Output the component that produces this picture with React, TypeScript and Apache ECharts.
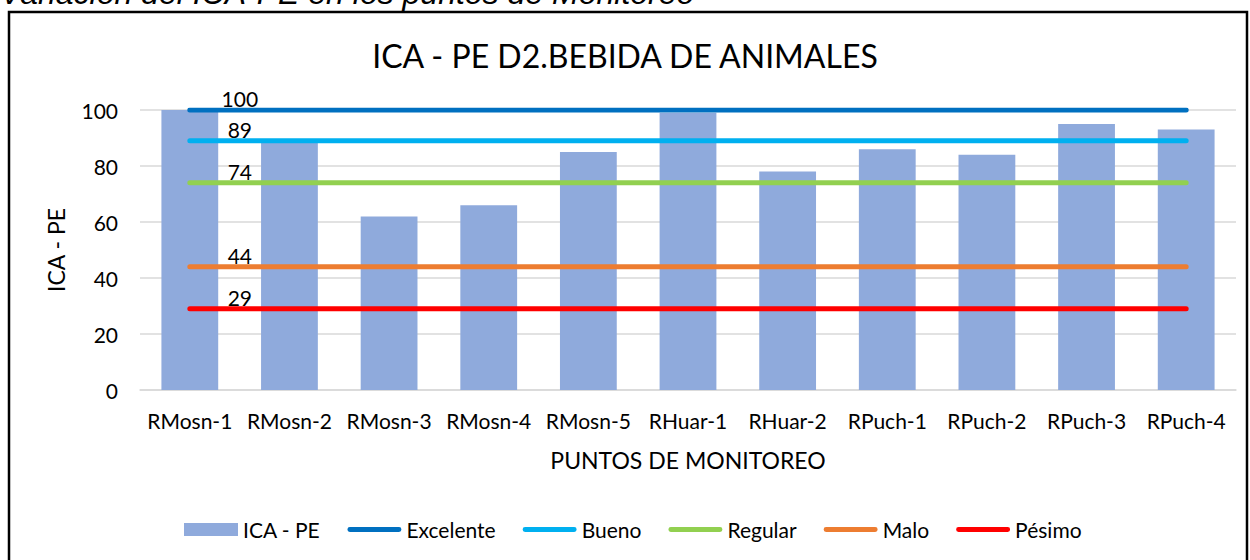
import React, { useEffect, useRef } from "react";
import * as echarts from "echarts";

const categories = [
  "RMosn-1",
  "RMosn-2",
  "RMosn-3",
  "RMosn-4",
  "RMosn-5",
  "RHuar-1",
  "RHuar-2",
  "RPuch-1",
  "RPuch-2",
  "RPuch-3",
  "RPuch-4",
];
const icaValues = [100, 89, 62, 66, 85, 99, 78, 86, 84, 95, 93];
const excelente = [100, 100, 100, 100, 100, 100, 100, 100, 100, 100, 100];
const bueno = [89, 89, 89, 89, 89, 89, 89, 89, 89, 89, 89];
const regular = [74, 74, 74, 74, 74, 74, 74, 74, 74, 74, 74];
const malo = [44, 44, 44, 44, 44, 44, 44, 44, 44, 44, 44];
const pesimo = [29, 29, 29, 29, 29, 29, 29, 29, 29, 29, 29];
const yTicks = { min: 0, max: 100, interval: 20 };

const FONT = "Lato";
const LINE_ICON =
  "path://M2.5,0 L53.5,0 A2.5,2.5 0 0 1 53.5,5 L2.5,5 A2.5,2.5 0 0 1 2.5,0 Z";

function lineSeries(name: string, data: number[], color: string) {
  return {
    name,
    type: "line",
    data,
    symbol: "circle",
    symbolSize: 0.5,
    showSymbol: true,
    z: 3,
    lineStyle: { color, width: 5, cap: "round" },
    itemStyle: { color },
    label: {
      show: true,
      position: "top",
      distance: 2,
      offset: [50, 1],
      color: "#000",
      fontFamily: FONT,
      fontSize: 21,
      formatter: (p: any) => (p.dataIndex === 0 ? String(p.value) : ""),
    },
  };
}

export default function App() {
  const ref = useRef<HTMLDivElement>(null);
  useEffect(() => {
    if (!ref.current) return;
    const chart = echarts.init(ref.current, undefined, { renderer: "svg" });
    chart.setOption({
      animation: false,
      backgroundColor: "#fff",
      textStyle: { fontFamily: FONT, color: "#000" },
      title: {
        text: "ICA - PE D2.BEBIDA DE ANIMALES",
        left: "center",
        top: 34,
        textStyle: { fontFamily: FONT, fontSize: 32, fontWeight: "normal", color: "#000" },
      },
      graphic: [
        {
          type: "text",
          left: 0,
          top: -23,
          style: {
            text: "Variación del ICA-PE en los puntos de Monitoreo",
            font: 'italic 32px "Liberation Sans"',
            fill: "#000",
          },
        },
        {
          type: "rect",
          shape: { x: 9, y: 12, width: 1238, height: 600 },
          style: { fill: "none", stroke: "#000", lineWidth: 2.5 },
          z: -1,
        },
      ],
      legend: {
        left: 179,
        top: 514,
        itemWidth: 54,
        itemHeight: 13,
        itemGap: 27,
        selectedMode: false,
        itemStyle: { borderWidth: 0 },
        textStyle: { fontFamily: FONT, fontSize: 21, color: "#000" },
        data: [
          { name: "ICA - PE", icon: "rect" },
          { name: "Excelente", icon: LINE_ICON },
          { name: "Bueno", icon: LINE_ICON },
          { name: "Regular", icon: LINE_ICON },
          { name: "Malo", icon: LINE_ICON },
          { name: "Pésimo", icon: LINE_ICON },
        ],
      },
      grid: { left: 140, right: 14, top: 110, bottom: 170 },
      xAxis: {
        type: "category",
        data: categories,
        name: "PUNTOS DE MONITOREO",
        nameLocation: "middle",
        nameGap: 58,
        nameTextStyle: { fontFamily: FONT, fontSize: 23, color: "#000" },
        axisLine: { lineStyle: { color: "#D9D9D9", width: 1.5 } },
        axisTick: { show: false },
        axisLabel: { fontFamily: FONT, fontSize: 21, color: "#000", margin: 20, interval: 0 },
      },
      yAxis: {
        type: "value",
        min: yTicks.min,
        max: yTicks.max,
        interval: yTicks.interval,
        name: "ICA - PE",
        nameLocation: "middle",
        nameGap: 73,
        nameTextStyle: { fontFamily: FONT, fontSize: 23, color: "#000" },
        axisLine: { show: false },
        axisTick: { show: false },
        axisLabel: { fontFamily: FONT, fontSize: 21, color: "#000", margin: 22 },
        splitLine: { lineStyle: { color: "#D9D9D9", width: 1.5 } },
      },
      series: [
        {
          name: "ICA - PE",
          type: "bar",
          data: icaValues,
          barWidth: "57%",
          itemStyle: { color: "#8FAADC" },
          z: 2,
        },
        lineSeries("Excelente", excelente, "#0070C0"),
        lineSeries("Bueno", bueno, "#00B0F0"),
        lineSeries("Regular", regular, "#92D050"),
        lineSeries("Malo", malo, "#ED7D31"),
        lineSeries("Pésimo", pesimo, "#FF0000"),
      ],
    });
    return () => chart.dispose();
  }, []);
  return (
    <div
      ref={ref}
      style={{ position: "fixed", left: 0, top: 0, width: 1250, height: 560 }}
    />
  );
}
